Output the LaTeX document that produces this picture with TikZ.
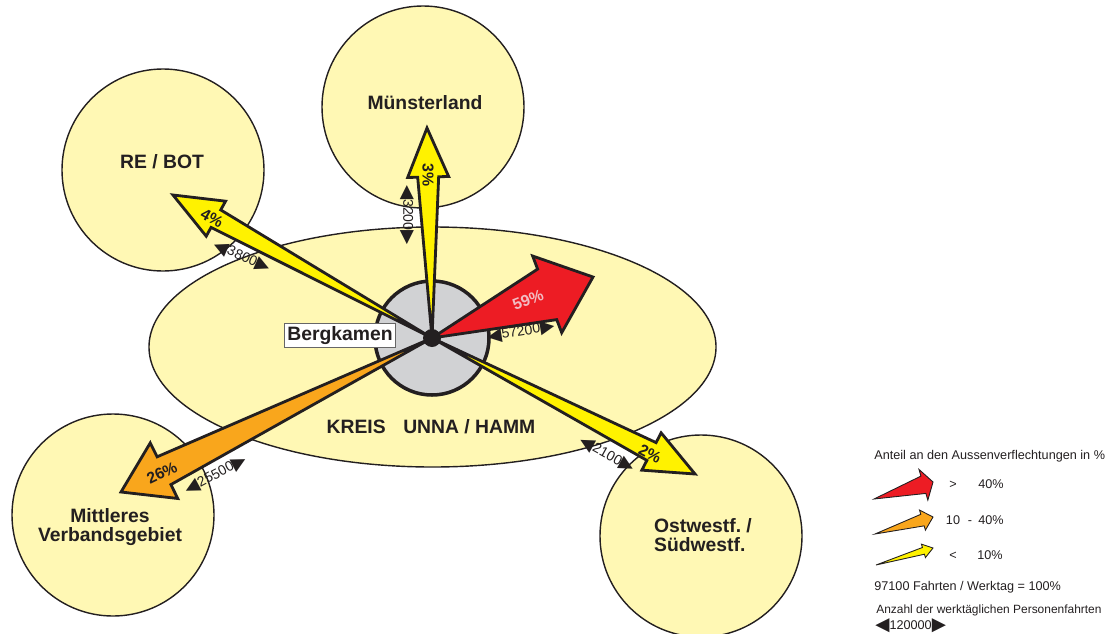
\documentclass[tikz,border=0pt]{standalone}
\usepackage{fontspec}
\setmainfont{Liberation Sans}
\newfontfamily\symfont{DejaVu Sans}
\usepackage{tikz}
\usetikzlibrary{positioning,calc,shapes.geometric}
\frenchspacing

\definecolor{ink}{HTML}{231F20}
\definecolor{regionfill}{HTML}{FFF8B4}
\definecolor{hubgrey}{HTML}{D1D2D4}
\definecolor{flowred}{HTML}{ED1C24}
\definecolor{floworange}{HTML}{F9A61C}
\definecolor{flowyellow}{HTML}{FFF200}
\definecolor{pctlight}{HTML}{F2BCC2}

% tapered flow arrow: style, from, to, shaft half width, head half width, head length
\newcommand{\flow}[6]{%
  \coordinate (hb) at ($(#3)!#6!(#2)$);
  \draw[#1] (#2) -- ($(hb)!#4!90:(#3)$) -- ($(hb)!#5!90:(#3)$) -- (#3)
    -- ($(hb)!#5!-90:(#3)$) -- ($(hb)!#4!-90:(#3)$) -- cycle;}
\newcommand{\tri}[1]{\raisebox{-0.08em}{\symfont\fontsize{10.5}{10.5}\selectfont #1}}
\newcommand{\fahrten}[1]{\tri{◀}#1\tri{▶}}

\tikzset{
  region/.style={circle, draw=ink, line width=0.8pt, fill=regionfill, inner sep=0pt, minimum size=40.4mm},
  regionlabel/.style={font=\fontsize{11}{10.8}\selectfont\bfseries, text=ink, align=center, inner sep=0pt},
  flowline/.style={draw=ink, line width=1.6pt, line join=miter},
  legendflow/.style={draw=ink, line width=0.5pt, line join=miter},
  pct/.style={font=\fontsize{9}{10}\selectfont\bfseries, text=ink, inner sep=0pt},
  tripcount/.style={font=\fontsize{8}{9}\selectfont, text=ink, inner sep=0pt},
  legendtext/.style={font=\fontsize{7.2}{8.6}\selectfont, text=ink, anchor=base west, inner sep=0pt},
}

\begin{document}
\begin{tikzpicture}[x=0.2mm, y=-0.2mm]
\useasboundingbox (0,0) rectangle (1110,633);

% regions
\node[ellipse, draw=ink, line width=0.8pt, fill=regionfill, inner sep=0pt,
  minimum width=113.4mm, minimum height=48mm] (kreis) at (432.5,347) {};
\node[region] (rebot) at (163,170) {};
\node[region] (muenster) at (423,107) {};
\node[region] (mittleres) at (113,515) {};
\node[region] (ostwestf) at (701,536) {};

% Bergkamen
\node[circle, draw=ink, line width=2pt, fill=hubgrey, inner sep=0pt, minimum size=22.8mm] (stadt) at (432,338) {};
\coordinate (hub) at (432,338);

% flow tips
\coordinate (tMuen) at (427,128);
\coordinate (tRE) at (173,195);
\coordinate (tOst) at (695,474);
\coordinate (tMit) at (121,492);
\coordinate (tRed) at (593,277);

% flows
\flow{flowline, fill=flowyellow}{hub}{tMuen}{2.1mm}{4.1mm}{9.8mm}
\flow{flowline, fill=flowyellow}{hub}{tRE}{2.0mm}{4.0mm}{9.8mm}
\flow{flowline, fill=flowyellow}{hub}{tOst}{2.0mm}{4.2mm}{9.8mm}
\flow{flowline, fill=floworange}{hub}{tMit}{3.1mm}{6.2mm}{9.6mm}
\flow{flowline, fill=flowred}{hub}{tRed}{5.4mm}{8.2mm}{9.8mm}
\fill[ink] (hub) circle[radius=1.8mm];

% labels
\node[regionlabel] (rebotlbl) at (162,162) {RE / BOT};
\node[regionlabel] (muensterlbl) at (425,103) {Münsterland};
\node[regionlabel] (mittlereslbl) at (110,527) {Mittleres\\Verbandsgebiet};
\node[regionlabel, align=left] (ostwestflbl) at (703,535) {Ostwestf. /\\Südwestf.};
\node[regionlabel] (kreislbl) at (431,427) {KREIS\hspace{10pt}UNNA / HAMM};
\node[draw=black!60, line width=0.4pt, fill=white, inner sep=1.5pt,
  font=\fontsize{11}{12}\selectfont\bfseries, text=ink] (bergkamen) at (340,335.5) {Bergkamen};

% shares
\node[pct, rotate=-90] (p3) at (428,175) {3\%};
\node[pct, rotate=-29] (p4) at (212,218) {4\%};
\node[pct, rotate=21, text=pctlight] (p59) at (528,300) {59\%};
\node[pct, rotate=26] (p26) at (162,473) {26\%};
\node[pct, rotate=-27] (p2) at (650,454) {2\%};

% trips per day
\node[tripcount, rotate=-24] (n3800) at (242,257) {\fahrten{3800}};
\node[tripcount, rotate=-90] (n3200) at (407,215) {\fahrten{3200}};
\node[tripcount, rotate=9] (n57200) at (521,332) {\fahrten{57200}};
\node[tripcount, rotate=28] (n25500) at (216,475) {\fahrten{25500}};
\node[tripcount, rotate=-29] (n2100) at (607,455) {\fahrten{2100}};

% legend
\node[legendtext] (legtitle) at (874,459) {Anteil an den Aussenverflechtungen in \%};
\coordinate (lr0) at (874,499); \coordinate (lr1) at (933,482);
\coordinate (lo0) at (875,534); \coordinate (lo1) at (933,517);
\coordinate (ly0) at (876,565); \coordinate (ly1) at (933,548);
\flow{legendflow, fill=flowred}{lr0}{lr1}{1.8mm}{3.2mm}{2mm}
\flow{legendflow, fill=floworange}{lo0}{lo1}{1.2mm}{2.1mm}{2.2mm}
\flow{legendflow, fill=flowyellow}{ly0}{ly1}{0.7mm}{1.4mm}{2mm}
\node[legendtext, anchor=base] (lgt) at (953,488) {>};
\node[legendtext, anchor=base] (lgt40) at (991,488) {40\%};
\node[legendtext, anchor=base] (lmid10) at (953,524) {10};
\node[legendtext, anchor=base] (lmiddash) at (970,524) {-};
\node[legendtext, anchor=base] (lmid40) at (991,524) {40\%};
\node[legendtext, anchor=base] (llt) at (953,559) {<};
\node[legendtext, anchor=base] (llt10) at (990,559) {10\%};
\node[legendtext] (legtotal) at (874,590) {97100 Fahrten / Werktag = 100\%};
\node[legendtext, font=\fontsize{6.8}{8}\selectfont] (legcount) at (876,613) {Anzahl der werktäglichen Personenfahrten};
\node[legendtext] (legscale) at (875,629) {\fahrten{120000}};
\end{tikzpicture}
\end{document}
